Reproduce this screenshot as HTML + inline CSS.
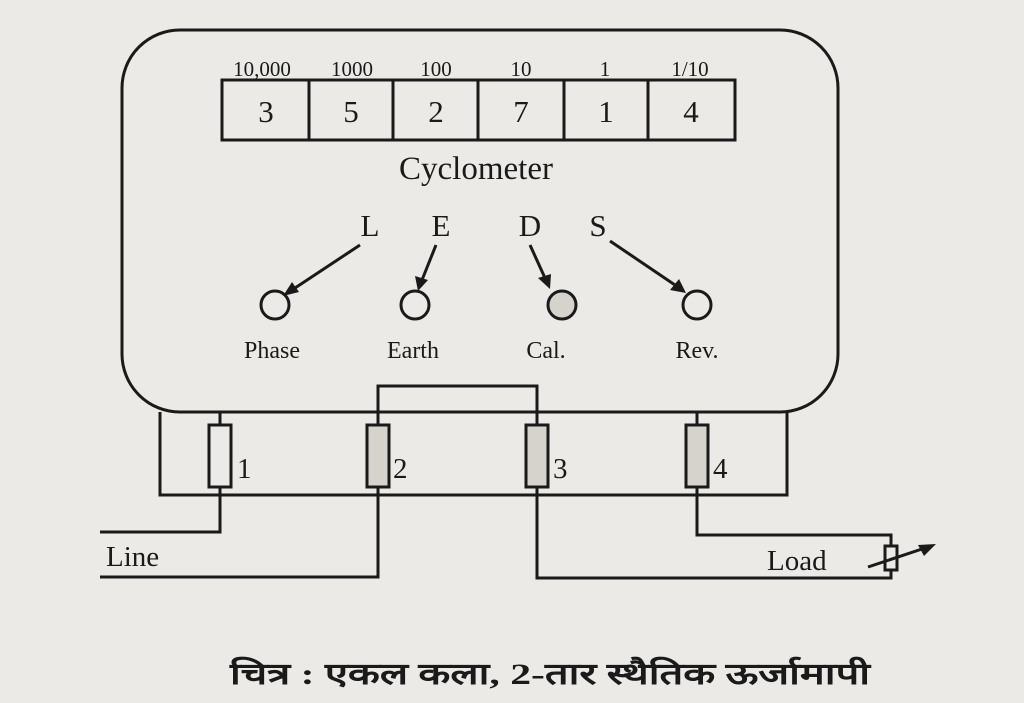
<!DOCTYPE html>
<html><head><meta charset="utf-8"><style>
html,body{margin:0;padding:0;background:#ebeae6;}
svg{display:block}
text{font-family:"Liberation Serif",serif;fill:#1a1a1a}
</style></head><body>
<svg width="1024" height="703" viewBox="0 0 1024 703" xmlns="http://www.w3.org/2000/svg">
<rect width="1024" height="703" fill="#ebeae6"/>
<g stroke="#1a1a1a" stroke-width="3" fill="none">
<rect x="122" y="30" width="716" height="382" rx="58" ry="58"/>
<polyline points="160,412 160,495 787,495 787,412"/>
<rect x="222" y="80" width="513" height="60"/>
<line x1="309" y1="80" x2="309" y2="140"/>
<line x1="393" y1="80" x2="393" y2="140"/>
<line x1="478" y1="80" x2="478" y2="140"/>
<line x1="564" y1="80" x2="564" y2="140"/>
<line x1="648" y1="80" x2="648" y2="140"/>
<polyline points="378,425 378,386 537,386 537,425"/>
<line x1="220" y1="412" x2="220" y2="425"/>
<line x1="697" y1="412" x2="697" y2="425"/>
<rect x="209" y="425" width="22" height="62"/>
<rect x="367" y="425" width="22" height="62" fill="#d6d3cc"/>
<rect x="526" y="425" width="22" height="62" fill="#d6d3cc"/>
<rect x="686" y="425" width="22" height="62" fill="#d6d3cc"/>
<polyline points="220,487 220,532 100,532"/>
<polyline points="378,487 378,577 100,577"/>
<polyline points="537,487 537,578 891,578 891,570"/>
<polyline points="697,487 697,535 891,535 891,546"/>
<rect x="885" y="546" width="12" height="24"/>
<line x1="868" y1="567" x2="925" y2="548"/>
<circle cx="275" cy="305" r="14"/>
<circle cx="415" cy="305" r="14"/>
<circle cx="562" cy="305" r="14" fill="#d6d3cc"/>
<circle cx="697" cy="305" r="14"/>
<line x1="360" y1="245" x2="292" y2="290"/>
<line x1="436" y1="245" x2="422" y2="280"/>
<line x1="530" y1="245" x2="545" y2="278"/>
<line x1="610" y1="241" x2="675" y2="285"/>
</g>
<g fill="#1a1a1a">
<polygon points="283,296 292,282 299,292"/>
<polygon points="418,291 415,276 428,280"/>
<polygon points="550,289 538,278 551,274"/>
<polygon points="686,293 670,290 679,279"/>
<polygon points="936,544 918,545 924,556"/>
</g>
<g font-size="21" text-anchor="middle">
<text x="262" y="76">10,000</text>
<text x="352" y="76">1000</text>
<text x="436" y="76">100</text>
<text x="521" y="76">10</text>
<text x="605" y="76">1</text>
<text x="690" y="76">1/10</text>
</g>
<g font-size="31" text-anchor="middle">
<text x="266" y="122">3</text>
<text x="351" y="122">5</text>
<text x="436" y="122">2</text>
<text x="521" y="122">7</text>
<text x="606" y="122">1</text>
<text x="691" y="122">4</text>
<text x="476" y="179" font-size="33">Cyclometer</text>
<text x="370" y="236">L</text>
<text x="441" y="236">E</text>
<text x="530" y="236">D</text>
<text x="598" y="236">S</text>
</g>
<g font-size="24" text-anchor="middle">
<text x="272" y="358">Phase</text>
<text x="413" y="358">Earth</text>
<text x="546" y="358">Cal.</text>
<text x="697" y="358">Rev.</text>
</g>
<g font-size="29">
<text x="237" y="478">1</text>
<text x="393" y="478">2</text>
<text x="553" y="478">3</text>
<text x="713" y="478">4</text>
<text x="106" y="566">Line</text>
<text x="767" y="570">Load</text>
</g>
<text x="230" y="684" font-size="30" textLength="640" lengthAdjust="spacingAndGlyphs" font-family="'Noto Sans CJK SC','DejaVu Sans',sans-serif" style="font-weight:bold">चित्र : एकल कला, 2-तार स्थैतिक ऊर्जामापी</text>
</svg>
</body></html>
